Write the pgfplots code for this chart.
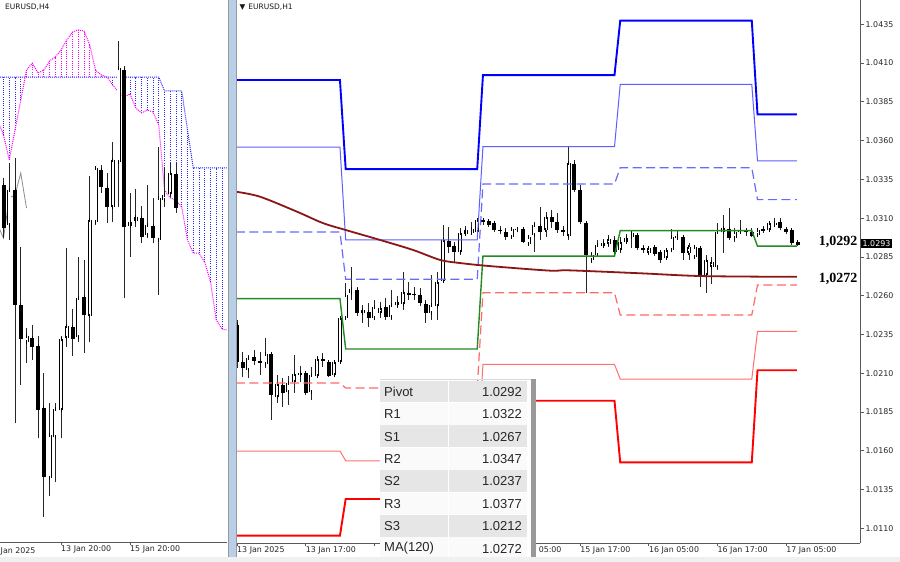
\documentclass[border=0pt]{standalone}
\usepackage{pgfplots}
\pgfplotsset{compat=1.18}
\usepackage{pgfplotstable}
\usepackage{fontspec}
\setmainfont{DejaVu Sans}
\newfontfamily\libsans{Liberation Sans}
\newfontfamily\libserif{Liberation Serif}

\definecolor{cRthree}{RGB}{0,0,255}
\definecolor{cRtwo}{RGB}{95,95,255}
\definecolor{cRone}{RGB}{105,105,255}
\definecolor{cPiv}{RGB}{34,139,34}
\definecolor{cSone}{RGB}{255,105,105}
\definecolor{cStwo}{RGB}{255,112,112}
\definecolor{cSthree}{RGB}{255,0,0}
\definecolor{cMA}{RGB}{140,22,22}
\definecolor{sepblue}{RGB}{185,207,232}
\definecolor{tgrey}{RGB}{230,230,230}
\definecolor{twhite}{RGB}{250,250,250}
\definecolor{kumoA}{RGB}{255,0,255}
\definecolor{kumoB}{RGB}{40,40,255}

% H1 candles: hour index from 13 Jan 05:00, open high low close
\pgfplotstableread{
h o hi lo c
0 1.02412 1.02444 1.02134 1.02173
1 1.02173 1.02237 1.02076 1.02134
2 1.02121 1.02218 1.02069 1.02198
3 1.02205 1.02250 1.02154 1.02180
4 1.02180 1.02237 1.02089 1.02167
5 1.02160 1.02327 1.02134 1.02224
6 1.02224 1.02237 1.01799 1.01960
7 1.01947 1.02089 1.01909 1.02031
8 1.02025 1.02069 1.01883 1.01973
9 1.01979 1.02082 1.01896 1.02038
10 1.02044 1.02218 1.01973 1.02095
11 1.02089 1.02147 1.02044 1.02102
12 1.02102 1.02115 1.01960 1.01973
13 1.01979 1.02141 1.01928 1.02089
14 1.02082 1.02211 1.02069 1.02192
15 1.02192 1.02231 1.02141 1.02180
16 1.02173 1.02186 1.02076 1.02082
17 1.02089 1.02186 1.02082 1.02173
18 1.02173 1.02469 1.02167 1.02456
19 1.02456 1.02683 1.02444 1.02605
20 1.02618 1.02786 1.02573 1.02644
21 1.02637 1.02656 1.02469 1.02489
22 1.02489 1.02541 1.02425 1.02508
23 1.02495 1.02554 1.02399 1.02456
24 1.02456 1.02573 1.02444 1.02528
25 1.02489 1.02560 1.02456 1.02521
26 1.02528 1.02586 1.02444 1.02463
27 1.02463 1.02637 1.02444 1.02541
28 1.02541 1.02599 1.02521 1.02560
29 1.02547 1.02753 1.02508 1.02624
30 1.02618 1.02689 1.02573 1.02605
31 1.02611 1.02656 1.02573 1.02605
32 1.02605 1.02650 1.02534 1.02554
33 1.02547 1.02573 1.02425 1.02489
34 1.02489 1.02734 1.02444 1.02541
35 1.02534 1.02753 1.02444 1.02689
36 1.02696 1.03056 1.02683 1.02960
37 1.02953 1.03043 1.02876 1.02915
38 1.02921 1.02947 1.02818 1.02882
39 1.02882 1.03037 1.02863 1.03005
40 1.02998 1.03049 1.02985 1.03024
41 1.03005 1.03075 1.02992 1.03030
42 1.03011 1.03101 1.02998 1.03088
43 1.03088 1.03101 1.03056 1.03075
44 1.03082 1.03094 1.03043 1.03056
45 1.03069 1.03082 1.03011 1.03024
46 1.03024 1.03049 1.02998 1.03018
47 1.03011 1.03037 1.02960 1.02979
48 1.02979 1.03037 1.02966 1.03030
49 1.03024 1.03043 1.03011 1.03030
50 1.03030 1.03043 1.02940 1.02947
51 1.02934 1.02992 1.02927 1.02979
52 1.02992 1.03075 1.02882 1.03056
53 1.03049 1.03172 1.02960 1.03011
54 1.03024 1.03140 1.02979 1.03107
55 1.03107 1.03153 1.03037 1.03075
56 1.03075 1.03133 1.03005 1.03024
57 1.03024 1.03049 1.02985 1.03011
58 1.02985 1.03559 1.02960 1.03456
59 1.03449 1.03475 1.03269 1.03282
60 1.03282 1.03314 1.03062 1.03075
61 1.03069 1.03075 1.02618 1.02863
62 1.02831 1.02882 1.02811 1.02863
63 1.02863 1.02960 1.02850 1.02927
64 1.02921 1.02966 1.02908 1.02940
65 1.02934 1.02992 1.02915 1.02966
66 1.02960 1.02985 1.02869 1.02882
67 1.02895 1.02979 1.02876 1.02947
68 1.02947 1.02998 1.02934 1.02973
69 1.02979 1.03018 1.02908 1.03005
70 1.02992 1.02998 1.02895 1.02908
71 1.02908 1.02927 1.02876 1.02895
72 1.02876 1.02921 1.02863 1.02908
73 1.02915 1.02927 1.02856 1.02869
74 1.02882 1.02895 1.02811 1.02831
75 1.02843 1.02908 1.02831 1.02895
76 1.02895 1.03030 1.02882 1.02979
77 1.02973 1.03024 1.02960 1.02985
78 1.02979 1.02985 1.02831 1.02876
79 1.02876 1.02940 1.02831 1.02915
80 1.02850 1.02927 1.02837 1.02915
81 1.02908 1.02915 1.02656 1.02734
82 1.02734 1.02863 1.02618 1.02831
83 1.02786 1.02850 1.02676 1.02818
84 1.02786 1.03069 1.02766 1.03011
85 1.03011 1.03120 1.02876 1.03037
86 1.03030 1.03166 1.02960 1.02973
87 1.02973 1.03037 1.02947 1.03011
88 1.03011 1.03088 1.02998 1.03024
89 1.03018 1.03037 1.02985 1.03011
90 1.03011 1.03037 1.02979 1.02985
91 1.02992 1.03037 1.02985 1.03024
92 1.03030 1.03049 1.03005 1.03018
93 1.03024 1.03075 1.03011 1.03069
94 1.03056 1.03101 1.03043 1.03069
95 1.03075 1.03101 1.03024 1.03037
96 1.03030 1.03043 1.02998 1.03011
97 1.03024 1.03030 1.02927 1.02940
98 1.02947 1.02960 1.02921 1.02930
}\hone

% H4 candles: bar index (10 = 13 Jan 20:00)
\pgfplotstableread{
h o hi lo c
0 1.03021 1.03047 1.02823 1.02861
1 1.02872 1.03104 1.02816 1.03003
2 1.03003 1.03122 1.02131 1.02573
3 1.02573 1.02790 1.02274 1.02446
4 1.02434 1.02487 1.02356 1.02457
5 1.02449 1.02498 1.02367 1.02416
6 1.02419 1.02457 1.02075 1.02180
7 1.02188 1.02318 1.01780 1.01930
8 1.01926 1.02206 1.01859 1.02087
9 1.02079 1.02206 1.01911 1.02184
10 1.02180 1.02457 1.02075 1.02446
11 1.02449 1.02786 1.02416 1.02494
12 1.02490 1.02558 1.02382 1.02446
13 1.02453 1.02752 1.02434 1.02599
14 1.02603 1.02741 1.02393 1.02535
15 1.02532 1.03055 1.02434 1.02890
16 1.02883 1.03092 1.02872 1.03085
17 1.03077 1.03096 1.02991 1.03014
18 1.03010 1.03066 1.02879 1.02939
19 1.02939 1.03182 1.02883 1.03115
20 1.03107 1.03560 1.02939 1.03459
21 1.03451 1.03466 1.02599 1.02864
22 1.02868 1.02991 1.02752 1.02883
23 1.02887 1.03006 1.02864 1.02902
24 1.02898 1.02943 1.02804 1.02827
25 1.02834 1.03021 1.02823 1.02872
26 1.02868 1.02973 1.02804 1.02823
27 1.02816 1.03163 1.02610 1.02973
28 1.02965 1.03089 1.02939 1.02984
29 1.02988 1.03104 1.02976 1.03066
30 1.03062 1.03104 1.02917 1.02935
}\hfour

% Ichimoku spans (A, B) on H4
\pgfplotstableread{
i a b
-1 1.03264 1.03425
0 1.03208 1.03425
1 1.03115 1.03425
2 1.03227 1.03425
3 1.03339 1.03425
4 1.03451 1.03425
5 1.03477 1.03425
6 1.03440 1.03425
7 1.03451 1.03425
8 1.03485 1.03425
9 1.03500 1.03425
10 1.03526 1.03425
11 1.03563 1.03425
12 1.03593 1.03425
13 1.03601 1.03425
14 1.03597 1.03425
15 1.03545 1.03425
16 1.03451 1.03425
17 1.03433 1.03425
18 1.03425 1.03425
19 1.03395 1.03425
20 1.03369 1.03425
21 1.03350 1.03425
22 1.03362 1.03425
23 1.03309 1.03425
24 1.03291 1.03425
25 1.03302 1.03425
26 1.03294 1.03425
27 1.03246 1.03425
28 1.03003 1.03373
29 1.02973 1.03373
30 1.02965 1.03373
31 1.02939 1.03373
32 1.02816 1.03227
33 1.02767 1.03085
34 1.02767 1.03085
35 1.02733 1.03085
36 1.02659 1.03085
37 1.02517 1.03085
38 1.02483 1.03085
39 1.02479 1.03085
}\kumo

\newcommand{\candles}[2]{%
\addplot[draw=none, mark=none, error bars/.cd, y dir=plus, y explicit, error mark=none,
  error bar style={draw=black!85, line width=0.7pt}]
  table[x=h, y=lo, y error expr=\thisrow{hi}-\thisrow{lo}] {#1};
\addplot[draw=none, mark=none, error bars/.cd, y dir=plus, y explicit, error mark=none,
  error bar style={draw=black, line width=4pt}]
  table[x=h, y expr={min(\thisrow{o},\thisrow{c})}, y error expr={max(abs(\thisrow{c}-\thisrow{o}),#2)}] {#1};
\addplot[draw=none, mark=none, error bars/.cd, y dir=both, y explicit, error mark=-,
  error bar style={draw=white, line width=2.5pt},
  error mark options={draw=black, line width=0.75pt, mark size=2pt}]
  table[x=h, y expr={\thisrow{o}+max(\thisrow{c}-\thisrow{o},0)/2}, y error expr={max(\thisrow{c}-\thisrow{o},0)/2}] {#1};
}

\pgfplotsset{
  mtaxis/.style={
    scale only axis,
    axis line style={draw=black!65, line width=0.8pt},
    tick align=outside, major tick length=3.5pt,
    tick style={draw=black!65, line width=0.8pt},
    xticklabel style={anchor=north west, inner sep=0pt, font=\fontsize{7.9}{9}\selectfont, text=black!85},
    yticklabel style={anchor=west, inner sep=0pt, xshift=2pt, font=\fontsize{7.9}{9}\selectfont, text=black!85},
  }
}

\begin{document}
\begin{tikzpicture}
\fill[white] (0pt,0pt) rectangle (900pt,562pt);

% ---------- left panel: H4 with Ichimoku cloud ----------
\begin{axis}[mtaxis,
  at={(0pt,20pt)}, anchor=south west, width=227pt, height=542pt,
  xmin=-0.61, xmax=38.87, ymin=1.01687, ymax=1.03713,
  axis x line*=bottom, axis y line=none, ytick=\empty,
  xtick={10,22}, xticklabels={13 Jan 20:00,15 Jan 20:00},
]
% cloud hatching
\addplot[draw=none, mark=none, error bars/.cd, y dir=plus, y explicit, error mark=none,
  error bar style={draw=kumoA, line width=0.9pt, dash pattern=on 1pt off 1.2pt}]
  table[x=i, y=b, y error expr={max(\thisrow{a}-\thisrow{b},0)}] {\kumo};
\addplot[draw=none, mark=none, error bars/.cd, y dir=plus, y explicit, error mark=none,
  error bar style={draw=kumoB, line width=0.9pt, dash pattern=on 1pt off 1.2pt}]
  table[x=i, y=a, y error expr={max(\thisrow{b}-\thisrow{a},0)}] {\kumo};
\addplot[kumoA, mark=none, line width=1pt, dash pattern=on 1pt off 1pt] table[x=i, y=a] {\kumo};
\addplot[kumoB, mark=none, line width=1pt, dash pattern=on 1pt off 1pt] table[x=i, y=b] {\kumo};
% lagging span
\addplot[black!45, mark=none, line width=0.8pt] coordinates {(-1,1.02872) (0,1.02823) (1,1.02973) (2,1.02984) (3,1.03066) (4,1.02935)};
\candles{\hfour}{0.00004}
\end{axis}

% ---------- right panel: H1 with pivot levels ----------
\begin{axis}[mtaxis,
  at={(236pt,19pt)}, anchor=south west, width=624pt, height=543pt,
  xmin=-0.175, xmax=108.92, ymin=1.01006, ymax=1.04507,
  axis x line*=bottom, axis y line*=right,
  xtick={0,12,24,36,48,60,72,84,96},
  xticklabels={13 Jan 2025,13 Jan 17:00,,,{\hspace*{27pt}05:00},15 Jan 17:00,16 Jan 05:00,16 Jan 17:00,17 Jan 05:00},
  ytick={1.0110,1.0135,1.0160,1.0185,1.0210,1.0235,1.0260,1.0285,1.0310,1.0335,1.0360,1.0385,1.0410,1.0435},
  yticklabels={1.0110,1.0135,1.0160,1.0185,1.0210,1.0235,1.0260,1.0285,1.0310,1.0335,1.0360,1.0385,1.0410,1.0435},
]
\candles{\hone}{0.00007}
% pivot levels
\addplot[cRthree, mark=none, line width=1.9pt] coordinates {(-0.2,1.03991) (18,1.03991) (19,1.03417) (42,1.03417) (43,1.04023) (66,1.04023) (67,1.04374) (90,1.04374) (91,1.0377) (97.9,1.0377)};
\addplot[cRtwo, mark=none, line width=1pt] coordinates {(-0.2,1.03559) (18,1.03559) (19,1.02960) (42,1.02960) (43,1.03561) (66,1.03561) (67,1.03963) (90,1.03963) (91,1.0347) (97.9,1.0347)};
\addplot[cRone, mark=none, line width=1.2pt, dash pattern=on 9pt off 4.5pt] coordinates {(-0.2,1.03011) (18,1.03011) (19,1.02706) (42,1.02706) (43,1.03321) (66,1.03321) (67,1.03426) (90,1.03426) (91,1.0322) (97.9,1.0322)};
\addplot[cPiv, mark=none, line width=1.4pt] coordinates {(-0.2,1.02582) (18,1.02582) (19,1.02257) (42,1.02257) (43,1.02856) (66,1.02856) (67,1.03020) (90,1.03020) (91,1.0292) (97.9,1.0292)};
\addplot[cSone, mark=none, line width=1.2pt, dash pattern=on 9pt off 4.5pt] coordinates {(-0.2,1.02037) (18,1.02037) (19,1.02005) (42,1.02005) (43,1.02620) (66,1.02620) (67,1.02476) (90,1.02476) (91,1.0267) (97.9,1.0267)};
\addplot[cStwo, mark=none, line width=1pt] coordinates {(-0.2,1.01599) (18,1.01599) (19,1.01536) (42,1.01536) (43,1.02157) (66,1.02157) (67,1.02063) (90,1.02063) (91,1.0237) (97.9,1.0237)};
\addplot[cSthree, mark=none, line width=1.9pt] coordinates {(-0.2,1.01054) (18,1.01054) (19,1.01290) (42,1.01290) (43,1.01923) (66,1.01923) (67,1.01526) (90,1.01526) (91,1.0212) (97.9,1.0212)};
% MA(120)
\addplot[cMA, mark=none, line width=1.8pt, smooth, tension=0.5] coordinates {(-0.2,1.03271) (4,1.03239) (10.5,1.03142) (15,1.03069) (19,1.03024) (25,1.02960) (30.8,1.02895) (35.5,1.02831) (39,1.02811) (44,1.02792) (54.7,1.02762) (58,1.02764) (70.5,1.02745) (81.3,1.02727) (97.9,1.02722)};
\end{axis}

% separator between the two windows
\fill[sepblue] (228pt,0pt) rectangle (236.5pt,562pt);
\draw[black!40, line width=0.8pt] (228pt,0pt) -- (228pt,562pt);
\draw[black!40, line width=0.8pt] (236.5pt,0pt) -- (236.5pt,562pt);

% window captions
\node[anchor=west, inner sep=0pt, font=\fontsize{7.5}{9}\selectfont, text=black!90] at (5pt,555.3pt) {EURUSD,H4};
\node[anchor=west, inner sep=0pt, font=\fontsize{7.5}{9}\selectfont, text=black!90] at (239.5pt,555.3pt) {▼\hspace{3pt}EURUSD,H1};
\node[anchor=north west, inner sep=0pt, font=\fontsize{7.9}{9}\selectfont, text=black!85] at (0.5pt,15pt) {Jan 2025};

% level labels
\node[font=\libserif\bfseries\fontsize{14}{16}\selectfont] at (838pt,320pt) {1,0292};
\node[font=\libserif\bfseries\fontsize{14}{16}\selectfont] at (838pt,283pt) {1,0272};
\node[anchor=west, fill=black, text=white, inner xsep=1.5pt, inner ysep=1.5pt, font=\fontsize{7.9}{9}\selectfont] at (861pt,318.5pt) {1.0293};

% levels table
\foreach \k/\nm/\vl/\bg in {0/Pivot/1.0292/tgrey, 1/R1/1.0322/twhite, 2/S1/1.0267/tgrey, 3/R2/1.0347/twhite, 4/S2/1.0237/tgrey, 5/R3/1.0377/twhite, 6/S3/1.0212/tgrey, 7/{MA(120)}/1.0272/twhite}{
  \fill[\bg] (380pt,{181.4pt-22.4pt*\k}) rectangle (527pt,{159pt-22.4pt*\k});
  \draw[white, line width=1pt] (380pt,{159pt-22.4pt*\k}) -- (527pt,{159pt-22.4pt*\k});
  \node[anchor=west, inner sep=0pt, font=\libsans\fontsize{13}{15}\selectfont, text=black!85] at (384pt,{170.2pt-22.4pt*\k}) {\nm};
  \node[anchor=east, inner sep=0pt, font=\libsans\fontsize{13}{15}\selectfont, text=black!85] at (522pt,{170.2pt-22.4pt*\k}) {\vl};
}
\draw[white, line width=1pt] (448pt,0pt) -- (448pt,181.4pt);
\fill[white] (527pt,0pt) rectangle (531pt,182.5pt);
\draw[black!15, line width=0.8pt] (380pt,182.3pt) -- (536pt,182.3pt);
\fill[black!40] (531pt,0pt) rectangle (535.5pt,182.5pt);
% bottom strip
\fill[black!6] (0pt,0pt) rectangle (900pt,5pt);

\pgfresetboundingbox
\path[use as bounding box] (0pt,0pt) rectangle (900pt,562pt);
\end{tikzpicture}
\end{document}
